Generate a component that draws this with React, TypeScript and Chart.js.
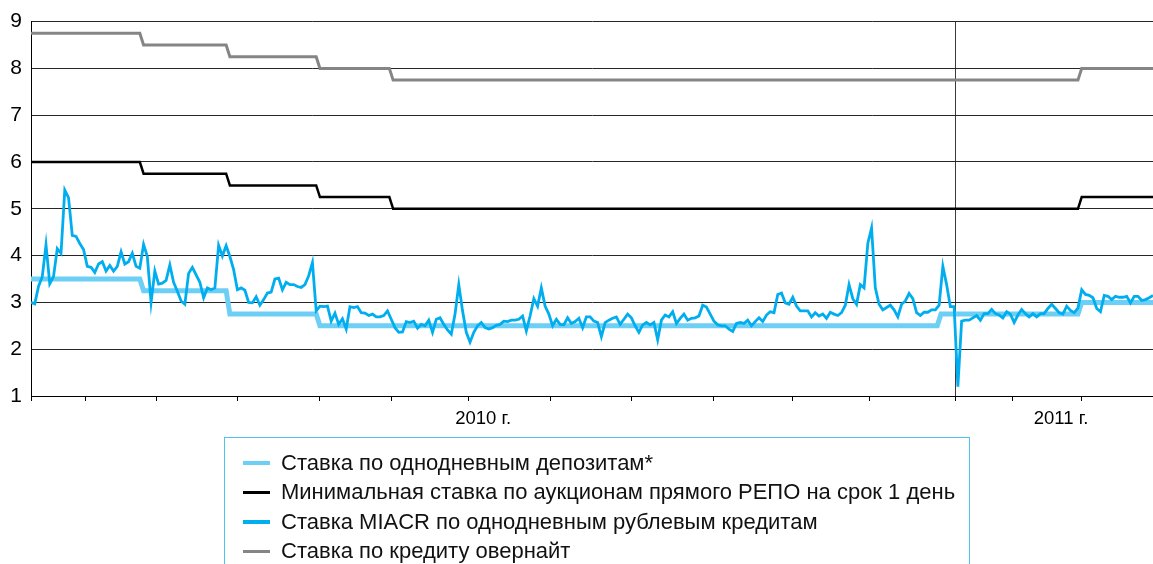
import React, { useEffect, useRef } from 'react';
import { Chart, registerables } from 'chart.js';

Chart.register(...registerables);

// Ставка MIACR по однодневным рублевым кредитам (по торговым дням)
const miacr: number[] = [
  3.0, 2.97, 3.34, 3.55, 4.23, 3.4, 3.55, 4.15, 4.05, 5.4, 5.24, 4.43, 4.41, 4.26, 4.13, 3.77, 3.75, 3.64, 3.82, 3.87,
  3.67, 3.79, 3.67, 3.77, 4.08, 3.82, 3.87, 4.05, 3.77, 3.73, 4.24, 3.98, 3.0, 3.67, 3.39, 3.41, 3.47, 3.8, 3.43, 3.24,
  3.03, 2.96, 3.62, 3.75, 3.59, 3.43, 3.1, 3.31, 3.27, 3.31, 4.22,
  3.99, 4.21, 3.98, 3.7, 3.27, 3.31, 3.26, 3.0, 2.99, 3.12, 2.94, 3.06, 3.2, 3.22, 3.5, 3.52, 3.27, 3.43, 3.38, 3.38,
  3.34, 3.32, 3.38, 3.57, 3.85, 2.82, 2.92, 2.91, 2.92, 2.6, 2.77, 2.53, 2.65, 2.43, 2.91, 2.89, 2.91, 2.78, 2.77, 2.72,
  2.75, 2.69, 2.69, 2.72, 2.82, 2.64, 2.46, 2.36, 2.37,
  2.59, 2.57, 2.6, 2.45, 2.53, 2.5, 2.62, 2.36, 2.64, 2.67, 2.53, 2.41, 2.32, 2.75, 3.38, 2.82, 2.36, 2.15, 2.36, 2.5,
  2.57, 2.46, 2.43, 2.46, 2.51, 2.53, 2.6, 2.59, 2.62, 2.62, 2.64, 2.71, 2.39, 2.71, 3.08, 2.92, 3.31, 2.92, 2.75, 2.5,
  2.64, 2.53, 2.52, 2.67, 2.55, 2.59, 2.66, 2.46, 2.69, 2.69, 2.6, 2.57,
  2.27, 2.57, 2.62, 2.66, 2.69, 2.53, 2.64, 2.75, 2.67, 2.5, 2.36, 2.52, 2.57, 2.52, 2.57, 2.2, 2.62, 2.73, 2.69, 2.8,
  2.55, 2.66, 2.75, 2.62, 2.66, 2.67, 2.71, 2.94, 2.9, 2.75, 2.6, 2.52, 2.5, 2.5, 2.43, 2.38, 2.55, 2.57, 2.55, 2.62,
  2.5, 2.59, 2.67, 2.59, 2.73, 2.8, 2.78, 3.17, 3.2, 2.99, 2.96, 3.11,
  2.92, 2.82, 2.82, 2.82, 2.69, 2.78, 2.71, 2.75, 2.66, 2.79, 2.75, 2.72, 2.78, 2.94, 3.38, 3.08, 2.96, 3.38, 3.31, 4.26,
  4.59, 3.31, 2.96, 2.84, 2.89, 2.94, 2.84, 2.69, 2.96, 3.03, 3.19, 3.08, 2.78, 2.72, 2.79, 2.79, 2.84, 2.84, 2.94, 3.77,
  3.38, 2.91, 2.91, 1.2, 2.6, 2.62, 2.62, 2.67, 2.72, 2.62,
  2.76, 2.76, 2.85, 2.76, 2.73, 2.67, 2.8, 2.75, 2.57, 2.73, 2.85, 2.76, 2.69, 2.76, 2.69, 2.76, 2.76, 2.87, 2.96, 2.87,
  2.78, 2.75, 2.92, 2.83, 2.78, 2.88, 3.27, 3.17, 3.15, 3.1, 2.87, 2.8, 3.15, 3.13, 3.06, 3.13, 3.11, 3.11, 3.13, 2.99,
  3.13, 3.13, 3.04, 3.06, 3.1, 3.15,
];

// Step-like policy rates: levels and trading-day index of each change
const overnightLevels: number[] = [8.75, 8.5, 8.25, 8.0, 7.75, 8.0];
const repoLevels: number[] = [6.0, 5.75, 5.5, 5.25, 5.0, 5.25];
const policyChangeDays: number[] = [29, 52, 76, 95.5, 279];
const depositLevels: number[] = [3.5, 3.25, 2.75, 2.5, 2.75, 3.0];
const depositChangeDays: number[] = [29, 52, 76, 241.5, 279];

// Month boundaries (trading-day index) for axis tick marks
const monthStarts: number[] = [0, 14.5, 33.5, 55, 77, 96, 116.5, 138.5, 160, 182, 203, 223.5, 246.5, 261.5, 280];
const yearBoundary = 246.5;
const yearLabelDays: number[] = [120.5, 274.5];
const yearLabels: string[] = ['2010 г.', '2011 г.'];

const legendLabels: string[] = [
  'Ставка по однодневным депозитам*',
  'Минимальная ставка по аукционам прямого РЕПО на срок 1 день',
  'Ставка MIACR по однодневным рублевым кредитам',
  'Ставка по кредиту овернайт',
];

const COLORS = {
  deposit: '#6dcff6',
  repo: '#000000',
  miacr: '#00aeef',
  overnight: '#858585',
};

const FONT = "'Liberation Sans', Arial, Helvetica, sans-serif";
const LAST = miacr.length - 1;

function stepPoints(levels: number[], changes: number[], end: number) {
  const pts: { x: number; y: number }[] = [{ x: 0, y: levels[0] }];
  changes.forEach((c, i) => {
    pts.push({ x: c, y: levels[i] });
    pts.push({ x: c + 1, y: levels[i + 1] });
  });
  pts.push({ x: end, y: levels[levels.length - 1] });
  return pts;
}

export default function App() {
  const canvasRef = useRef<HTMLCanvasElement | null>(null);

  useEffect(() => {
    const canvas = canvasRef.current;
    if (!canvas) return;
    const isYearTick = (v: number) => yearLabelDays.some((d) => Math.abs(d - v) < 1e-6);

    const chart = new Chart(canvas, {
      type: 'line',
      data: {
        datasets: [
          {
            label: legendLabels[2],
            data: miacr.map((v, i) => ({ x: i, y: v })),
            borderColor: COLORS.miacr,
            borderWidth: 2.8,
            pointRadius: 0,
            tension: 0,
            order: 0,
          },
          {
            label: legendLabels[0],
            data: stepPoints(depositLevels, depositChangeDays, LAST),
            borderColor: COLORS.deposit,
            borderWidth: 5,
            pointRadius: 0,
            tension: 0,
            order: 1,
          },
          {
            label: legendLabels[1],
            data: stepPoints(repoLevels, policyChangeDays, LAST),
            borderColor: COLORS.repo,
            borderWidth: 2.5,
            pointRadius: 0,
            tension: 0,
            order: 2,
          },
          {
            label: legendLabels[3],
            data: stepPoints(overnightLevels, policyChangeDays, LAST),
            borderColor: COLORS.overnight,
            borderWidth: 3,
            pointRadius: 0,
            tension: 0,
            order: 3,
          },
        ],
      },
      options: {
        responsive: false,
        animation: false,
        devicePixelRatio: 1,
        layout: { padding: { top: 17, right: 0, left: 0, bottom: 0 } },
        plugins: {
          legend: { display: false },
          tooltip: { enabled: false },
        },
        scales: {
          x: {
            type: 'linear',
            min: 0,
            max: LAST,
            afterFit: (s: any) => {
              s.height = 44;
            },
            afterBuildTicks: (s: any) => {
              const vals = [...monthStarts, ...yearLabelDays].sort((a, b) => a - b);
              s.ticks = vals.map((v) => ({ value: v }));
            },
            ticks: {
              autoSkip: false,
              maxRotation: 0,
              minRotation: 0,
              padding: 7,
              color: '#000',
              font: { family: FONT, size: 18.5 },
              callback: (v: any) => {
                const i = yearLabelDays.findIndex((d) => Math.abs(d - Number(v)) < 1e-6);
                return i >= 0 ? yearLabels[i] : '';
              },
            },
            grid: {
              drawOnChartArea: true,
              drawTicks: true,
              tickLength: 5,
              lineWidth: 1,
              color: (c: any) =>
                c.tick && Math.abs(c.tick.value - yearBoundary) < 1e-6 ? '#3a3a3a' : 'rgba(0,0,0,0)',
              tickColor: (c: any) => (c.tick && isYearTick(c.tick.value) ? 'rgba(0,0,0,0)' : '#000'),
            },
            border: { display: true, color: '#000', width: 1 },
          },
          y: {
            min: 1,
            max: 9,
            afterFit: (s: any) => {
              s.width = 31;
            },
            ticks: {
              stepSize: 1,
              padding: 9,
              color: '#000',
              font: { family: FONT, size: 21 },
            },
            grid: { color: '#262626', lineWidth: 1, drawTicks: false },
            border: { display: true, color: '#000', width: 1 },
          },
        },
      },
    } as any);

    return () => chart.destroy();
  }, []);

  const legendColors = [COLORS.deposit, COLORS.repo, COLORS.miacr, COLORS.overnight];

  return (
    <div
      style={{
        position: 'fixed',
        left: 0,
        top: 0,
        width: 1153,
        height: 564,
        overflow: 'hidden',
        background: '#fff',
      }}
    >
      <canvas ref={canvasRef} width={1153} height={440} style={{ display: 'block' }} />
      <div
        style={{
          position: 'absolute',
          left: 224,
          top: 437,
          width: 746,
          height: 160,
          border: '1px solid #4fc3f0',
          boxSizing: 'border-box',
          paddingTop: 10,
          fontFamily: FONT,
          fontSize: 22,
          color: '#111',
        }}
      >
        {legendLabels.map((t, i) => (
          <div key={t} style={{ display: 'flex', alignItems: 'center', height: 29.5 }}>
            <div
              style={{
                marginLeft: 18,
                width: 27,
                height: 3.5,
                background: legendColors[i],
                flex: 'none',
              }}
            />
            <span style={{ marginLeft: 11, whiteSpace: 'nowrap' }}>{t}</span>
          </div>
        ))}
      </div>
    </div>
  );
}
